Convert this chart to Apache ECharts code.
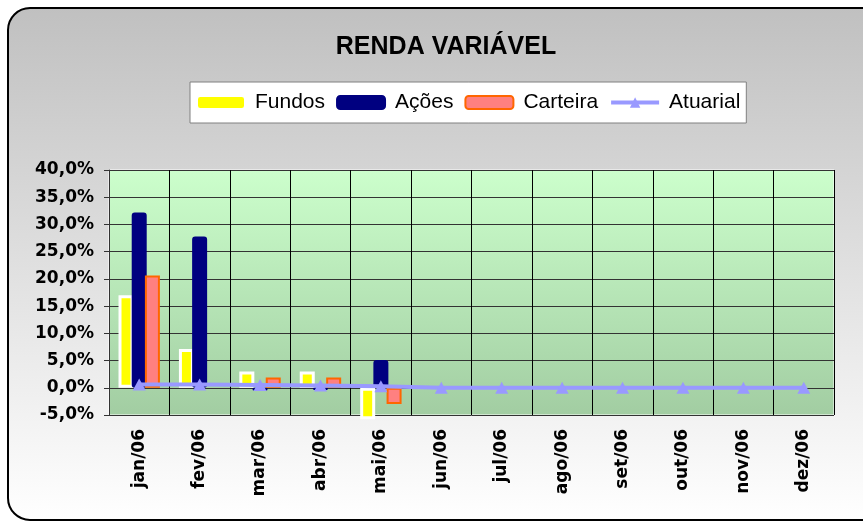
<!DOCTYPE html>
<html>
<head>
<meta charset="utf-8">
<title>Renda Variável</title>
<script src="https://cdn.jsdelivr.net/npm/echarts@6.0.0/dist/echarts.min.js"></script>
<style>
  html, body { margin: 0; padding: 0; background: #fff; }
  #chart { width: 863px; height: 523px; }
</style>
</head>
<body>
<div id="chart"></div>
<script>
// meses
var meses = ['jan/06', 'fev/06', 'mar/06', 'abr/06', 'mai/06', 'jun/06',
  'jul/06', 'ago/06', 'set/06', 'out/06', 'nov/06', 'dez/06']

// valores em %
var fundos = [17.0, 7.1, 3.0, 3.0, -5.8, null, null, null, null, null, null, null]
var acoes = [32.2, 27.8, -0.5, -0.4, 5.1, null, null, null, null, null, null, null]
var carteira = [20.6, null, 1.9, 1.9, -3.0, null, null, null, null, null, null, null]
var atuarial = [0.6, 0.6, 0.5, 0.4, 0.3, 0, 0, 0, 0, 0, 0, 0]

var yMin = -5
var yMax = 40
var yStep = 5

function fmtPct (v) {
  return v.toFixed(1).replace('.', ',') + '%'
}

var myChart = echarts.init(document.getElementById('chart'))

var option = {
  animation: false,
  graphic: [
    {
      type: 'rect',
      z: -10,
      silent: true,
      shape: { x: 8, y: 8, width: 880, height: 512, r: 22 },
      style: {
        fill: new echarts.graphic.LinearGradient(0, 0, 0, 1, [
          { offset: 0, color: '#c0c0c0' },
          { offset: 1, color: '#ffffff' }
        ]),
        stroke: '#000',
        lineWidth: 2
      }
    }
  ],
  title: {
    text: 'RENDA VARIÁVEL',
    left: 441,
    textAlign: 'center',
    top: 30,
    textStyle: {
      fontFamily: 'Liberation Sans',
      fontSize: 25,
      fontWeight: 'bold',
      color: '#000'
    }
  },
  legend: {
    left: 190,
    top: 82,
    padding: [10, 6],
    itemGap: 11,
    itemWidth: 48,
    itemHeight: 13,
    backgroundColor: '#fff',
    borderColor: '#808080',
    borderWidth: 1,
    borderRadius: 0,
    textStyle: {
      fontFamily: 'Liberation Sans',
      fontSize: 21,
      color: '#000',
      padding: [0, 0, 0, 5]
    },
    data: [
      'Fundos',
      'Ações',
      'Carteira',
      { name: 'Atuarial', lineStyle: { width: 4, color: '#9999ff' } }
    ]
  },
  grid: {
    left: 109,
    right: 29,
    top: 170,
    bottom: 108,
    show: true,
    borderColor: '#fff',
    borderWidth: 1,
    backgroundColor: new echarts.graphic.LinearGradient(0, 0, 0, 1, [
      { offset: 0, color: '#ccffcc' },
      { offset: 1, color: '#a2cda2' }
    ])
  },
  xAxis: {
    type: 'category',
    data: meses,
    boundaryGap: true,
    axisLine: { show: false, onZero: false },
    axisTick: { show: false },
    splitLine: {
      show: true,
      lineStyle: { color: '#000', width: 1 }
    },
    axisLabel: {
      rotate: 90,
      margin: 14,
      interval: 0,
      fontFamily: 'DejaVu Sans',
      fontWeight: 'bold',
      fontSize: 17,
      color: '#000'
    }
  },
  yAxis: {
    type: 'value',
    min: yMin,
    max: yMax,
    interval: yStep,
    axisLine: { show: true, lineStyle: { color: '#333', width: 1 } },
    axisTick: { show: true, length: 5, lineStyle: { color: '#333' } },
    splitLine: { show: true, lineStyle: { color: '#333', width: 1 } },
    axisLabel: {
      margin: 15,
      formatter: fmtPct,
      fontFamily: 'DejaVu Sans',
      fontWeight: 'bold',
      fontSize: 17,
      color: '#000'
    }
  },
  series: [
    {
      name: 'Fundos',
      type: 'bar',
      barWidth: 15,
      barGap: '-12%',
      clip: false,
      itemStyle: {
        color: '#ffff00',
        borderColor: '#ffffff',
        borderWidth: 3
      },
      data: fundos
    },
    {
      name: 'Ações',
      type: 'bar',
      barWidth: 15,
      barGap: '-12%',
      itemStyle: {
        color: '#000080',
        borderColor: '#000080',
        borderWidth: 2,
        borderRadius: 2
      },
      data: acoes
    },
    {
      name: 'Carteira',
      type: 'bar',
      barWidth: 15,
      barGap: '-12%',
      itemStyle: {
        color: '#ff8080',
        borderColor: '#ff6600',
        borderWidth: 2
      },
      data: carteira
    },
    {
      name: 'Atuarial',
      type: 'line',
      symbol: 'triangle',
      symbolSize: [13, 12],
      lineStyle: { color: '#9999ff', width: 4 },
      itemStyle: { color: '#9999ff' },
      data: atuarial
    }
  ]
}

myChart.setOption(option)
</script>
</body>
</html>
